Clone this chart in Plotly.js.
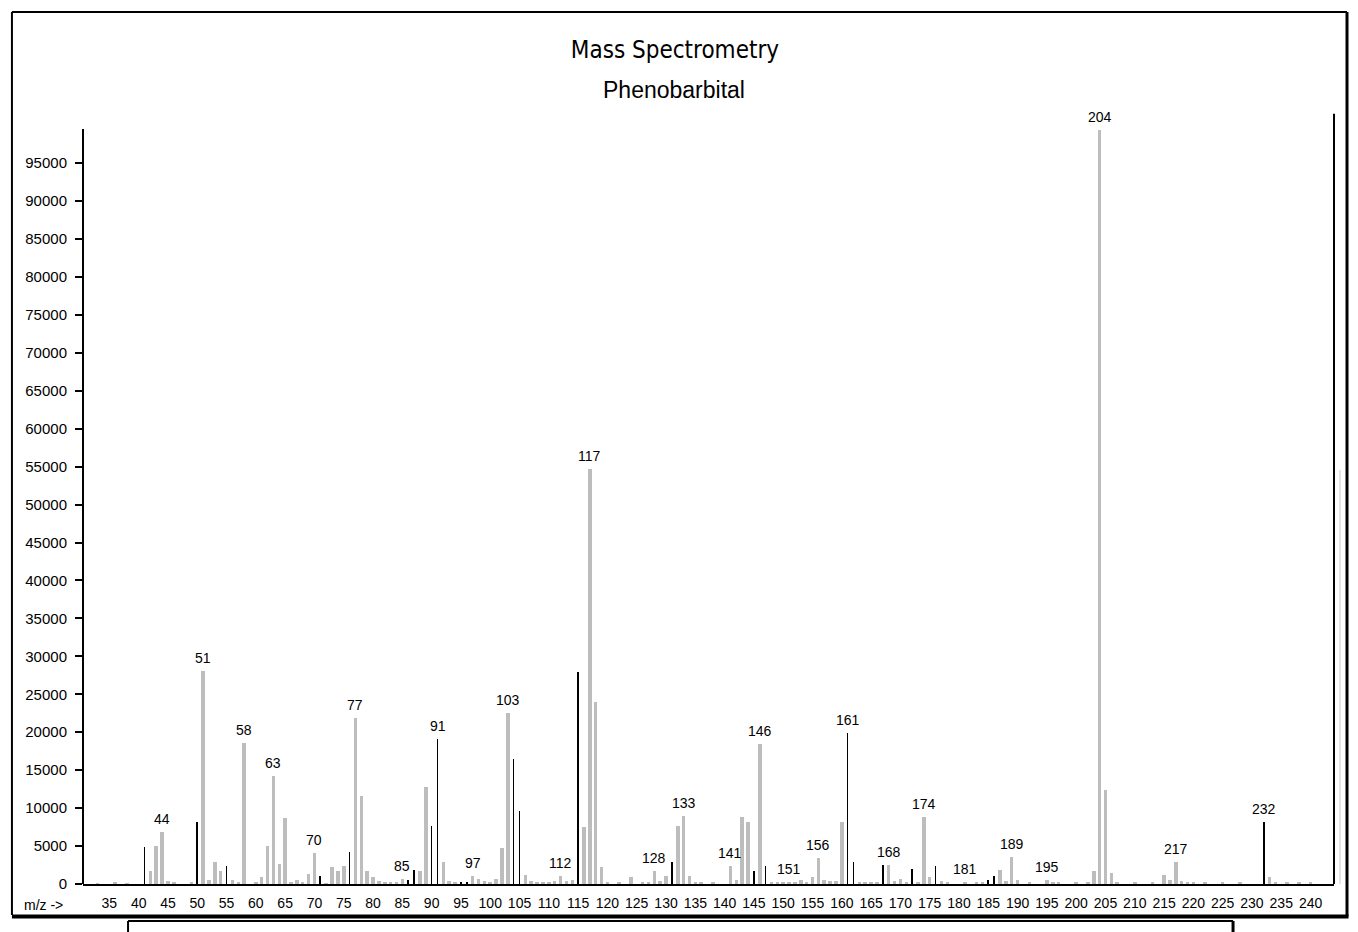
<!DOCTYPE html>
<html>
<head>
<meta charset="utf-8">
<script src="https://cdn.plot.ly/plotly-3.0.1.min.js"></script>
<style>
  html, body { margin: 0; padding: 0; background: #fff; }
  #chart { width: 1358px; height: 932px; }
</style>
</head>
<body>
<div id="chart"></div>
<script>
// ---- Data (m/z vs abundance) ----
// Light grey peaks
const greyMz = [33, 36, 38, 42, 43, 44, 45, 46, 49, 51, 52, 53, 54, 56, 57, 58, 60, 61, 62, 63, 64, 65, 66, 67, 68, 69, 70, 72, 73, 74, 75, 77, 78, 79, 80, 81, 82, 83, 84, 85, 88, 89,
  92, 93, 94, 97, 98, 99, 100, 101, 102, 103, 106, 107, 108, 109, 110, 111, 112, 113, 114, 116, 117, 118, 119, 120, 122, 124, 126, 127, 128, 129, 130, 132, 133, 134, 135, 136, 138, 141, 142, 143, 144, 146,
  148, 149, 150, 151, 152, 153, 154, 155, 156, 157, 158, 159, 160, 163, 164, 165, 166, 168, 169, 170, 171, 173, 174, 175, 177, 178, 181, 183, 184, 187, 188, 189, 190, 192, 195, 196, 197, 200, 202, 203, 204, 205, 206, 207, 210, 213, 215, 216, 217, 218, 219, 220, 222, 225, 228, 233, 234, 236, 238, 240];
const greyInt = [150, 200, 150, 1750, 5050, 6900, 400, 200, 250, 28100, 500, 2850, 1750, 500, 300, 18550, 300, 970, 5050, 14230, 2630, 8650, 300, 530, 300, 1320, 4130, 170, 2200, 1750, 2370, 21830, 11640, 1750, 880, 400, 250, 300, 300, 700, 1750, 12820,
  2940, 440, 300, 1000, 620, 400, 250, 600, 4780, 22490, 1190, 400, 300, 300, 300, 400, 1050, 440, 500, 7560, 54650, 23940, 2280, 300, 200, 880, 200, 300, 1750, 400, 1100, 7640, 8960, 1050, 300, 300, 200, 2370, 530, 8870, 8130, 18450,
  300, 300, 200, 300, 300, 530, 300, 970, 3380, 500, 400, 400, 8130, 300, 200, 200, 300, 2500, 440, 600, 300, 300, 8870, 970, 400, 200, 300, 200, 200, 1840, 400, 3600, 530, 200, 530, 300, 300, 200, 300, 1750, 99300, 12390, 1400, 300, 200, 300, 1190, 500, 2940, 400, 300, 200, 200, 200, 200, 880, 300, 200, 200, 200];
// Dark (black) peaks
const blackMz  = [41, 50, 55, 71, 76, 86, 87, 90, 91, 95, 96, 104, 105, 115, 131, 145, 147, 161, 162, 167, 172, 176, 185, 186, 232];
const blackInt = [4900, 8200, 2400, 1050, 4170, 500, 1840, 7700, 19100, 200, 300, 16430, 9660, 27980, 2940, 1750, 2370, 19850, 2850, 2500, 1930, 2370, 530, 1050, 8200];
// Peaks carrying an m/z label
const labelMz = [44, 51, 58, 63, 70, 77, 85, 91, 97, 103, 112, 117, 128, 133, 141, 146, 151, 156, 161, 168, 174, 181, 189, 195, 204, 217, 232];
// Axis ticks
const xTicks = [35, 40, 45, 50, 55, 60, 65, 70, 75, 80, 85, 90, 95, 100, 105, 110, 115, 120, 125, 130, 135, 140, 145, 150, 155, 160, 165, 170, 175, 180, 185, 190, 195, 200, 205, 210, 215, 220, 225, 230, 235, 240];
const yTicks = [0, 5000, 10000, 15000, 20000, 25000, 30000, 35000, 40000, 45000, 50000, 55000, 60000, 65000, 70000, 75000, 80000, 85000, 90000, 95000];

const FONT = 'Liberation Sans, Arial, Helvetica, sans-serif';

function intensityAt(m) {
  let v = 0;
  const gi = greyMz.indexOf(m); if (gi >= 0) v = Math.max(v, greyInt[gi]);
  const bi = blackMz.indexOf(m); if (bi >= 0) v = Math.max(v, blackInt[bi]);
  return v;
}

const traces = [
  { type: 'bar', x: greyMz, y: greyInt, width: 0.6,
    marker: { color: '#bdbdbd', line: { width: 0 } }, hoverinfo: 'x+y', showlegend: false },
  { type: 'bar', x: blackMz, y: blackInt, width: 0.28,
    marker: { color: '#000000', line: { width: 0 } }, hoverinfo: 'x+y', showlegend: false }
];

const annotations = labelMz.map(m => ({
  x: m, y: intensityAt(m), xref: 'x', yref: 'y', text: String(m),
  showarrow: false, yanchor: 'bottom', xanchor: 'center', yshift: 3,
  font: { family: FONT, size: 14, color: '#000' }
}));
annotations.push({
  xref: 'paper', yref: 'paper', x: 0.4724, y: 1.0258, text: 'Phenobarbital',
  showarrow: false, xanchor: 'center', yanchor: 'middle',
  font: { family: FONT, size: 23, color: '#000' }
});
annotations.push({
  xref: 'paper', yref: 'paper', x: -0.0488, y: -0.0275, text: 'm/z ->',
  showarrow: false, xanchor: 'left', yanchor: 'middle',
  font: { family: FONT, size: 14, color: '#000' }
});

const K = '#000';
const shapes = [
  // y axis line (stops a little below the top of the plot)
  { type: 'line', xref: 'paper', yref: 'paper', x0: 0, x1: 0, y0: 0, y1: 0.9755, line: { color: K, width: 2 } },
  // right frame line
  { type: 'line', xref: 'paper', yref: 'paper', x0: 1, x1: 1, y0: 0, y1: 0.995, line: { color: K, width: 2 } },
  // faint trace beyond the right frame
  { type: 'line', xref: 'paper', yref: 'paper', x0: 1.0048, x1: 1.0048, y0: 0, y1: 0.535, line: { color: '#e4e4e4', width: 2 } },
  // outer frame
  { type: 'line', xref: 'paper', yref: 'paper', x0: -0.0568, x1: 1.0104, y0: 1.1266, y1: 1.1266, line: { color: K, width: 2 } },
  { type: 'line', xref: 'paper', yref: 'paper', x0: -0.0568, x1: -0.0568, y0: 1.1266, y1: -0.0400, line: { color: K, width: 2 } },
  { type: 'line', xref: 'paper', yref: 'paper', x0: 1.0104, x1: 1.0104, y0: 1.1266, y1: -0.0420, line: { color: K, width: 3 } },
  { type: 'line', xref: 'paper', yref: 'paper', x0: -0.0568, x1: 1.0116, y0: -0.0420, y1: -0.0420, line: { color: K, width: 4 } },
  // lower (cut-off) box
  { type: 'line', xref: 'paper', yref: 'paper', x0: 0.0360, x1: 0.9193, y0: -0.0478, y1: -0.0478, line: { color: K, width: 2 } },
  { type: 'line', xref: 'paper', yref: 'paper', x0: 0.0360, x1: 0.0360, y0: -0.0478, y1: -0.07, line: { color: K, width: 2 } },
  { type: 'line', xref: 'paper', yref: 'paper', x0: 0.9193, x1: 0.9193, y0: -0.0478, y1: -0.07, line: { color: K, width: 3 } }
];

const layout = {
  width: 1358, height: 932,
  margin: { l: 83, r: 24, t: 110, b: 48, pad: 0 },
  paper_bgcolor: '#fff', plot_bgcolor: '#fff',
  font: { family: FONT, color: '#000' },
  title: {
    text: 'Mass Spectrometry',
    font: { family: 'DejaVu Sans Condensed, Liberation Sans Narrow, sans-serif', size: 24, color: '#000' },
    xref: 'container', yref: 'container', x: 0.497, y: 0.9464, xanchor: 'center', yanchor: 'middle'
  },
  barmode: 'overlay',
  bargap: 0,
  xaxis: {
    range: [30.5, 244], autorange: false,
    showline: true, linecolor: K, linewidth: 2,
    showgrid: false, zeroline: false,
    tickmode: 'array', tickvals: xTicks, ticktext: xTicks.map(String),
    ticks: '', tickangle: 0, ticklabelstandoff: 5,
    tickfont: { family: FONT, size: 14, color: '#000' }
  },
  yaxis: {
    range: [0, 102000], autorange: false,
    showline: false, showgrid: false, zeroline: false,
    tickmode: 'array', tickvals: yTicks, ticktext: yTicks.map(String),
    ticks: 'outside', ticklen: 7, tickwidth: 2, tickcolor: K,
    ticklabelstandoff: 5,
    tickfont: { family: FONT, size: 15, color: '#000' }
  },
  annotations: annotations,
  shapes: shapes
};

Plotly.newPlot('chart', traces, layout, { staticPlot: true, displayModeBar: false });
</script>
</body>
</html>
